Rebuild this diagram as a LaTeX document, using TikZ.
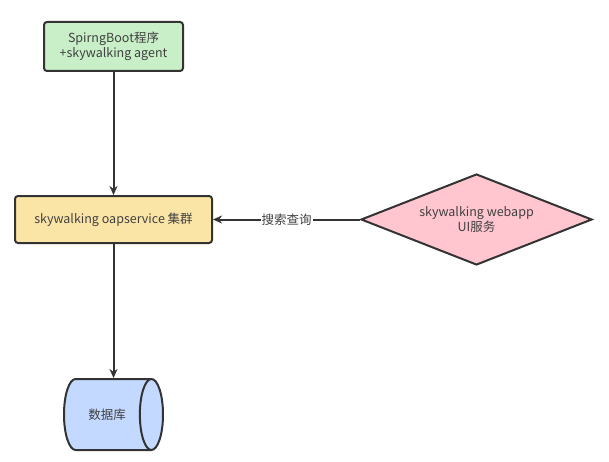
\documentclass[tikz,border=0pt]{standalone}
\usepackage{fontspec}
\setmainfont{Noto Sans CJK SC}
\usetikzlibrary{arrows.meta,shapes.geometric}
\definecolor{edge}{HTML}{333333}
\definecolor{txt}{HTML}{404040}
\definecolor{gfill}{HTML}{C8EFC8}
\definecolor{yfill}{HTML}{FBE5A6}
\definecolor{pfill}{HTML}{FFC6CF}
\definecolor{bfill}{HTML}{C3D9FF}
\begin{document}
\begin{tikzpicture}[x=1pt,y=-1pt,
  box/.style={draw=edge,line width=2pt,rounded corners=3pt,text=txt,font=\fontsize{12.5}{15.5}\selectfont,align=center,inner sep=0pt},
  conn/.style={draw=edge,line width=2pt,-{Stealth[length=9pt,width=8pt]}},
  lbl/.style={fill=white,text=txt,font=\fontsize{12.5}{14}\selectfont,inner sep=1pt}]
\useasboundingbox (0,0) rectangle (609,462);
\node[box,fill=gfill,minimum width=139pt,minimum height=49pt] (app) at (113.5,46.5) {SpirngBoot程序\\+skywalking agent};
\node[box,fill=yfill,minimum width=197pt,minimum height=47pt] (oap) at (113.5,219.5) {skywalking oapservice 集群};
\node[draw=edge,line width=2pt,fill=pfill,diamond,aspect=2.54,minimum width=231pt,minimum height=91pt,inner sep=0pt,text=txt,font=\fontsize{12.5}{15.5}\selectfont,align=center] (ui) at (476.5,219.5) {skywalking webapp\\UI服务};
\node[draw=edge,line width=2pt,fill=bfill,cylinder,aspect=2,minimum height=99pt,minimum width=71pt,inner sep=0pt,text=txt,font=\fontsize{12.5}{15.5}\selectfont,anchor=shape center] (db) at (113.5,414.5) {数据库};
\draw[conn] (app) -- (oap);
\draw[conn] (oap.south) -- (oap.south |- db.north);
\draw[conn] (ui) -- node[lbl] {搜索查询} (oap);
\end{tikzpicture}
\end{document}
